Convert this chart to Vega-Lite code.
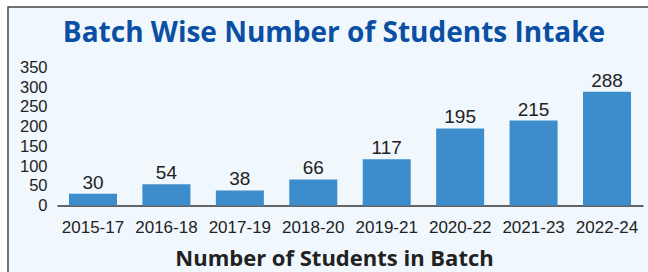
{
  "$schema": "https://vega.github.io/schema/vega-lite/v6.json",
  "width": 645,
  "height": 268,
  "autosize": {"type": "none"},
  "padding": {"left": 8, "top": 7, "right": 0, "bottom": 0},
  "background": "white",
  "config": {
    "view": {"fill": "#f1f8fd", "stroke": "#444444", "strokeWidth": 1.5},
    "axis": {"grid": false}
  },
  "title": {
    "text": "Batch Wise Number of Students Intake",
    "font": "Open Sans",
    "fontSize": 28,
    "fontWeight": "bold",
    "color": "#0b4fa4",
    "anchor": "middle",
    "frame": "group",
    "baseline": "alphabetic",
    "offset": -33,
    "dy": 30,
    "dx": 3.5
  },
  "data": {
    "values": [
      {"batch": "2015-17", "students": 30},
      {"batch": "2016-18", "students": 54},
      {"batch": "2017-19", "students": 38},
      {"batch": "2018-20", "students": 66},
      {"batch": "2019-21", "students": 117},
      {"batch": "2020-22", "students": 195},
      {"batch": "2021-23", "students": 215},
      {"batch": "2022-24", "students": 288}
    ]
  },
  "encoding": {
    "x": {
      "field": "batch",
      "type": "nominal",
      "sort": null,
      "scale": {"range": [49, 635], "paddingInner": 0.346, "paddingOuter": 0.163},
      "axis": {
        "title": "Number of Students in Batch",
        "titleFont": "Open Sans",
        "titleFontSize": 22,
        "titleFontWeight": "bold",
        "titleColor": "#222222",
        "titleX": 326,
        "titleY": 60,
        "titleBaseline": "alphabetic",
        "titleAlign": "center",
        "labelFont": "Liberation Sans",
        "labelFontSize": 17,
        "labelColor": "#222222",
        "labelAngle": 0,
        "labelBaseline": "alphabetic",
        "labelPadding": 27,
        "ticks": false,
        "tickSize": 0,
        "domainColor": "#333333",
        "domainWidth": 1.5,
        "offset": -69.5
      }
    },
    "y": {
      "field": "students",
      "type": "quantitative",
      "scale": {"domain": [0, 350], "nice": false, "zero": true, "range": [198.5, 60.25]},
      "axis": {
        "title": null,
        "values": [0, 50, 100, 150, 200, 250, 300, 350],
        "labelFont": "Liberation Sans",
        "labelFontSize": 16.5,
        "labelColor": "#222222",
        "domain": false,
        "ticks": false,
        "tickSize": 0,
        "labelPadding": 1,
        "offset": -40
      }
    }
  },
  "layer": [
    {"mark": {"type": "bar", "color": "#3d8ccc"}},
    {
      "mark": {"type": "text", "font": "Liberation Sans", "fontSize": 19, "color": "#222222", "baseline": "alphabetic", "dy": -5},
      "encoding": {"text": {"field": "students", "type": "quantitative"}}
    }
  ]
}
